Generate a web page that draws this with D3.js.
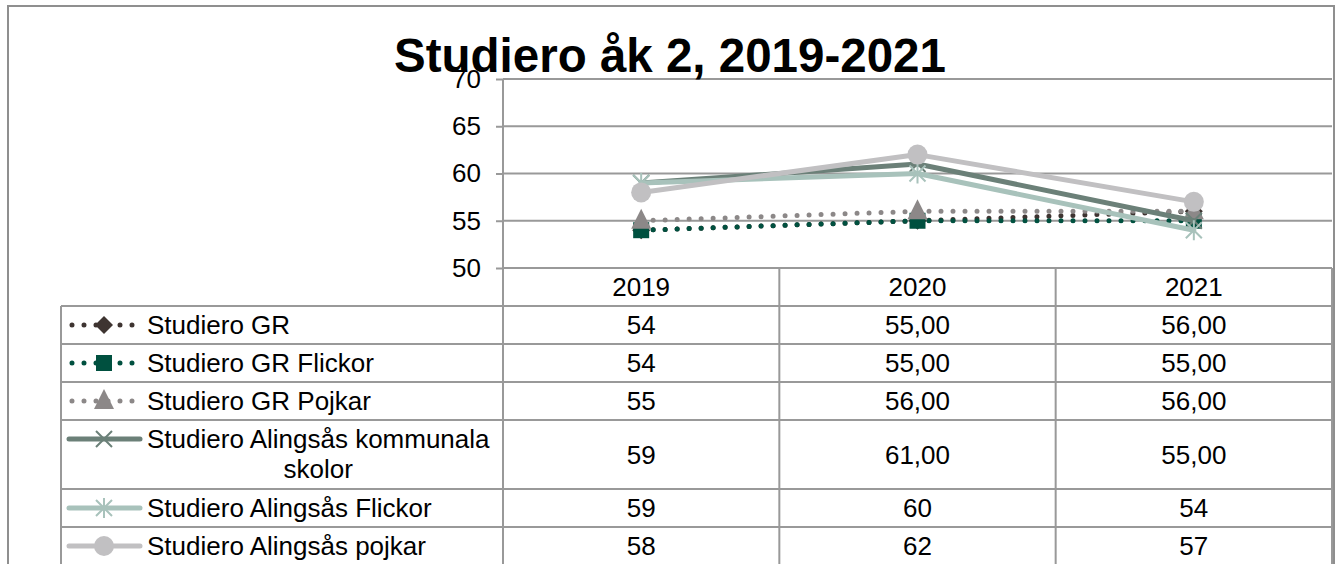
<!DOCTYPE html>
<html>
<head>
<meta charset="utf-8">
<script src="https://cdn.jsdelivr.net/npm/d3@7"></script>
<style>
  body { margin: 0; background: #fff; }
  svg { font-family: "Liberation Sans", Arial, sans-serif; }
</style>
</head>
<body>
<svg></svg>
<script>
const size = {w: 1340, h: 564};
const plot = {l: 503, r: 1332, t: 79, b: 268};

// data
const years = ['2019', '2020', '2021'];
const seriesNames = [
    'Studiero GR',
    'Studiero GR Flickor',
    'Studiero GR Pojkar',
    'Studiero Alingsås kommunala skolor',
    'Studiero Alingsås Flickor',
    'Studiero Alingsås pojkar'
];
const seriesValues = [
    [54, 55, 56],
    [54, 55, 55],
    [55, 56, 56],
    [59, 61, 55],
    [59, 60, 54],
    [58, 62, 57]
];
// decimals shown in the data table
const seriesDecimals = [
    [0, 2, 2],
    [0, 2, 2],
    [0, 2, 2],
    [0, 2, 2],
    [0, 0, 0],
    [0, 0, 0]
];
const yTicks = [50, 55, 60, 65, 70];
const titleText = 'Studiero åk 2, 2019-2021';

const styles = [
    {color: '#3e3431', dash: true,  marker: 'diamond'},
    {color: '#00503f', dash: true,  marker: 'square'},
    {color: '#8c8888', dash: true,  marker: 'triangle'},
    {color: '#6b8078', dash: false, marker: 'x'},
    {color: '#a8c2bb', dash: false, marker: 'star'},
    {color: '#c1c0c2', dash: false, marker: 'circle'}
];
const gridColor = '#999999';
const fontSize = 26;

const svg = d3.select('svg')
    .attr('width', size.w)
    .attr('height', size.h);

// chart frame
svg.append('rect')
    .attr('x', 8).attr('y', 6)
    .attr('width', 1326).attr('height', 600)
    .attr('fill', 'none')
    .attr('stroke', '#8f8f8f')
    .attr('stroke-width', 2);

const x = d3.scaleBand().domain(years).range([plot.l, plot.r]);
const y = d3.scaleLinear().domain([50, 70]).range([plot.b, plot.t]);

// gridlines
svg.append('g').selectAll('line')
    .data(yTicks.slice(1))
    .join('line')
    .attr('x1', plot.l).attr('x2', plot.r)
    .attr('y1', d => y(d)).attr('y2', d => y(d))
    .attr('stroke', gridColor).attr('stroke-width', 2);

// y axis
const yAxis = svg.append('g')
    .attr('transform', `translate(${plot.l},0)`)
    .call(d3.axisLeft(y).tickValues(yTicks).tickSize(7).tickPadding(15));
yAxis.select('.domain').remove();
yAxis.selectAll('.tick line').attr('stroke', gridColor).attr('stroke-width', 2);
yAxis.selectAll('.tick text')
    .attr('font-size', fontSize).attr('fill', '#000')
    .attr('font-family', '"Liberation Sans", Arial, sans-serif');

// data table
const legendLeft = 61;
const textLeft = 147;
const lineH = 30;
const fmt = (v, dec) => d3.format(`.${dec}f`)(v).replace('.', ',');

const tableG = svg.append('g');

// header row
tableG.selectAll('text.year')
    .data(years)
    .join('text')
    .attr('class', 'year')
    .attr('x', d => x(d) + x.bandwidth() / 2)
    .attr('y', plot.b + 19 + 9)
    .attr('text-anchor', 'middle')
    .attr('font-size', fontSize)
    .text(d => d);

// wrap legend labels
const measure = svg.append('text').attr('font-size', fontSize).attr('visibility', 'hidden');
const maxW = plot.l - textLeft - 4;
const wrapped = seriesNames.map(name => {
    const words = name.split(' ');
    const lines = [];
    let cur = '';
    words.forEach(w => {
        const test = cur ? cur + ' ' + w : w;
        measure.text(test);
        if (measure.node().getComputedTextLength() > maxW && cur) {
            lines.push(cur);
            cur = w;
        } else {
            cur = test;
        }
    });
    lines.push(cur);
    const widths = lines.map(l => { measure.text(l); return measure.node().getComputedTextLength(); });
    return {lines, width: d3.max(widths)};
});
measure.remove();

let rowTop = plot.b + 38;
const rows = wrapped.map((w, i) => {
    const h = 8 + w.lines.length * lineH + (w.lines.length > 1 ? 1 : 0);
    const r = {i, top: rowTop, h, w};
    rowTop += h;
    return r;
});
const tableBottom = rowTop;

// horizontal table lines
tableG.selectAll('line.hrow')
    .data(rows.map(r => r.top).concat([tableBottom]))
    .join('line')
    .attr('class', 'hrow')
    .attr('x1', legendLeft).attr('x2', plot.r)
    .attr('y1', d => d).attr('y2', d => d)
    .attr('stroke', gridColor).attr('stroke-width', 2);

// axis line at 50 (top of header)
tableG.append('line')
    .attr('x1', plot.l).attr('x2', plot.r)
    .attr('y1', plot.b).attr('y2', plot.b)
    .attr('stroke', gridColor).attr('stroke-width', 2);

// vertical lines
tableG.selectAll('line.vcol')
    .data(years.map(d => x(d) + x.bandwidth()))
    .join('line')
    .attr('class', 'vcol')
    .attr('x1', d => d).attr('x2', d => d)
    .attr('y1', plot.b).attr('y2', tableBottom)
    .attr('stroke', gridColor).attr('stroke-width', 2);
tableG.append('line')
    .attr('x1', plot.l).attr('x2', plot.l)
    .attr('y1', plot.t).attr('y2', tableBottom)
    .attr('stroke', gridColor).attr('stroke-width', 2);
tableG.append('line')
    .attr('x1', legendLeft).attr('x2', legendLeft)
    .attr('y1', rows[0].top).attr('y2', tableBottom)
    .attr('stroke', gridColor).attr('stroke-width', 2);

// marker drawing
function drawMarker(g, type, color, cx, cy) {
    const m = g.append('g').attr('transform', `translate(${cx},${cy})`);
    if (type === 'diamond') {
        m.append('path').attr('d', 'M0,-9L9,0L0,9L-9,0Z').attr('fill', color);
    } else if (type === 'square') {
        m.append('rect').attr('x', -8).attr('y', -8).attr('width', 16).attr('height', 16).attr('fill', color);
    } else if (type === 'triangle') {
        m.append('path').attr('d', 'M0,-12L10,8L-10,8Z').attr('fill', color);
    } else if (type === 'circle') {
        m.append('circle').attr('r', 10).attr('fill', color);
    } else {
        const s = 8;
        let d = `M${-s},${-s}L${s},${s}M${-s},${s}L${s},${-s}`;
        if (type === 'star') d += `M0,${-s - 2}L0,${s + 2}`;
        m.append('path').attr('d', d).attr('stroke', color).attr('stroke-width', 2).attr('fill', 'none');
    }
}

// legend + values
rows.forEach(r => {
    const st = styles[r.i];
    const firstMid = r.top + 4 + lineH / 2;
    const g = tableG.append('g');
    g.append('line')
        .attr('x1', st.dash ? 72 : 69).attr('x2', st.dash ? 136 : 140)
        .attr('y1', firstMid).attr('y2', firstMid)
        .attr('stroke', st.color)
        .attr('stroke-width', 5)
        .attr('stroke-linecap', 'round')
        .attr('stroke-dasharray', st.dash ? '0 12' : null);
    drawMarker(g, st.marker, st.color, 104, firstMid);

    const cxText = textLeft + r.w.width / 2;
    g.append('text')
        .attr('font-size', fontSize)
        .attr('text-anchor', 'middle')
        .selectAll('tspan')
        .data(r.w.lines)
        .join('tspan')
        .attr('x', cxText)
        .attr('y', (d, j) => firstMid + 9 + j * lineH)
        .text(d => d);

    const midRow = r.top + r.h / 2;
    g.selectAll('text.val')
        .data(years)
        .join('text')
        .attr('class', 'val')
        .attr('x', d => x(d) + x.bandwidth() / 2)
        .attr('y', midRow + 9)
        .attr('text-anchor', 'middle')
        .attr('font-size', fontSize)
        .text((d, j) => fmt(seriesValues[r.i][j], seriesDecimals[r.i][j]));
});

// series lines
const line = d3.line()
    .x((d, j) => x(years[j]) + x.bandwidth() / 2)
    .y(d => y(d));

const seriesG = svg.append('g');
seriesValues.forEach((vals, i) => {
    const st = styles[i];
    seriesG.append('path')
        .datum(vals)
        .attr('d', line)
        .attr('fill', 'none')
        .attr('stroke', st.color)
        .attr('stroke-width', 5)
        .attr('stroke-linecap', 'round')
        .attr('stroke-linejoin', 'round')
        .attr('stroke-dasharray', st.dash ? '0 12' : null);
    vals.forEach((v, j) => {
        drawMarker(seriesG, st.marker, st.color, x(years[j]) + x.bandwidth() / 2, y(v));
    });
});

// title (overlaps the top tick label in the original too)
svg.append('text')
    .attr('x', 670)
    .attr('y', 72)
    .attr('text-anchor', 'middle')
    .attr('font-size', 47.5)
    .attr('font-weight', 'bold')
    .text(titleText);
</script>
</body>
</html>
